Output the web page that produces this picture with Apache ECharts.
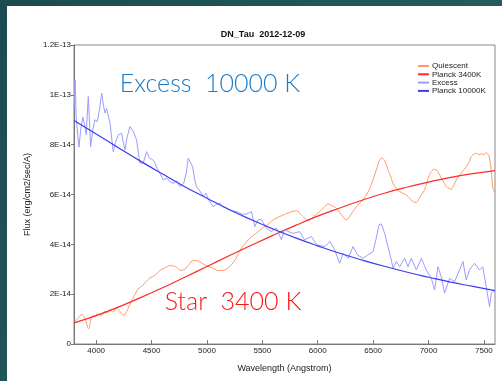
<!DOCTYPE html>
<html>
<head>
<meta charset="utf-8">
<script src="https://cdn.jsdelivr.net/npm/echarts@6/dist/echarts.min.js"></script>
<style>html,body{margin:0;padding:0;}#c{width:502px;height:381px;}</style>
</head>
<body>
<div id="c"></div>
<script>
// Values are in units of 1E-14 erg/cm2/sec/A
const quiescentWave = [3800,3820,3850,3870,3890,3910,3925,3935,3950,3970,3990,4010,4030,4050,4080,4100,4125,4150,4185,4215,4245,4275,4305,4335,4377,4420,4450,4485,4530,4575,4620,4665,4720,4760,4800,4840,4873,4910,4936,4990,5053,5100,5143,5190,5234,5270,5297,5340,5387,5447,5500,5550,5597,5650,5700,5760,5808,5860,5913,5960,6018,6060,6093,6130,6169,6210,6259,6300,6349,6400,6439,6470,6499,6530,6559,6583,6610,6634,6660,6679,6710,6739,6770,6800,6830,6860,6890,6910,6935,6960,6980,7000,7025,7055,7080,7100,7130,7160,7185,7206,7230,7251,7275,7296,7320,7341,7365,7386,7410,7431,7455,7476,7500,7521,7540,7551,7565,7581,7600];
const quiescentFlux = [0.85,0.96,1.1,1.2,1.1,0.9,0.65,0.62,0.95,1.15,1.1,1.22,1.18,1.15,1.32,1.25,1.38,1.28,1.45,1.3,1.15,1.3,1.6,1.85,2.2,2.35,2.5,2.65,2.75,2.95,3.05,3.15,3.1,2.95,3.0,3.2,3.35,3.35,3.3,3.15,3.05,2.95,2.95,3.05,3.25,3.5,3.75,4.0,4.25,4.45,4.65,4.8,4.98,5.1,5.2,5.3,5.35,5.15,4.95,5.1,5.31,5.5,5.62,5.55,5.45,5.2,4.98,5.2,5.51,5.75,5.98,6.25,6.59,7.0,7.39,7.46,7.3,6.99,6.7,6.45,6.25,6.12,6.05,5.98,5.85,5.71,5.68,5.8,5.98,6.15,6.39,6.7,6.92,7.01,6.95,6.79,6.55,6.32,6.25,6.21,6.4,6.59,6.75,6.86,7.0,7.12,7.3,7.52,7.62,7.66,7.6,7.63,7.6,7.68,7.6,7.46,7.0,6.25,6.05];

const excessWave = [3800,3810,3820,3835,3845,3860,3880,3895,3910,3929,3950,3970,3989,4010,4030,4050,4065,4080,4095,4109,4125,4154,4175,4199,4230,4245,4260,4280,4305,4335,4365,4380,4395,4425,4455,4480,4510,4530,4555,4575,4605,4640,4670,4695,4725,4755,4790,4815,4831,4850,4870,4890,4906,4935,4966,4990,5020,5056,5085,5116,5145,5177,5220,5267,5297,5327,5360,5402,5432,5460,5490,5537,5580,5627,5672,5700,5740,5777,5837,5880,5943,5990,6063,6110,6153,6198,6230,6274,6319,6360,6409,6450,6499,6525,6553,6574,6604,6630,6664,6680,6709,6740,6784,6815,6844,6890,6935,6980,7025,7055,7085,7115,7145,7190,7235,7280,7311,7340,7370,7415,7461,7490,7521,7551,7566,7597];
const excessFlux = [9.4,10.6,9.1,8.3,7.9,8.6,9.1,8.8,8.4,9.93,7.92,8.6,9.0,8.93,9.4,10.07,9.6,9.27,9.45,9.37,8.86,7.72,8.1,8.39,8.46,8.1,7.79,8.3,8.73,8.53,8.19,7.7,7.26,7.26,7.72,7.46,7.4,7.26,7.0,6.86,6.59,6.65,6.5,6.45,6.55,6.32,6.45,6.9,7.46,7.3,7.12,6.59,6.32,6.15,5.92,6.05,5.75,5.51,5.6,5.65,5.5,5.45,5.35,5.31,5.25,5.2,5.22,5.31,4.71,4.98,5.0,4.65,4.51,4.65,4.18,4.58,4.5,4.44,4.51,4.18,4.31,3.98,3.91,4.11,3.78,3.24,3.64,3.44,3.91,3.57,3.44,3.57,3.71,4.18,4.78,4.82,4.44,3.98,3.37,3.04,3.31,3.1,3.44,3.1,3.44,2.97,3.44,2.97,2.64,2.17,3.1,2.7,2.04,2.64,2.5,2.97,3.31,2.57,2.97,3.24,2.97,3.1,2.3,1.5,2.04,2.17];

const planckWave = [3800,4000,4200,4400,4600,4800,5000,5200,5400,5600,5800,6000,6200,6400,6600,6800,7000,7200,7400,7600];
const planck3400 = [0.85,1.14,1.48,1.86,2.26,2.68,3.11,3.54,3.96,4.37,4.76,5.13,5.46,5.77,6.05,6.29,6.50,6.69,6.84,6.96];
const planck10000 = [8.97,8.43,7.88,7.34,6.82,6.31,5.85,5.40,4.99,4.61,4.26,3.94,3.64,3.37,3.12,2.89,2.68,2.48,2.31,2.14];

const xTicks = [4000,4500,5000,5500,6000,6500,7000,7500];
const yTickLabels = ['0','2E-14','4E-14','6E-14','8E-14','1E-13','1.2E-13'];
const seriesNames = ['Quiescent','Planck 3400K','Excess','Planck 10000K'];

const zip = (a, b) => a.map((v, i) => [v, b[i]]);

const chart = echarts.init(document.getElementById('c'), null, {renderer: 'canvas'});
const lab = {fontFamily: 'Liberation Sans', fontSize: 8, color: '#222'};
chart.setOption({
  animation: false,
  backgroundColor: {type: 'linear', x: 0, y: 0, x2: 1, y2: 1, colorStops: [{offset: 0, color: '#1b4b51'}, {offset: 1, color: '#2a6464'}]},
  graphic: [
    {type: 'rect', z: -10, shape: {x: 7, y: 6, width: 495, height: 375}, style: {fill: '#ffffff'}},
    {type: 'text', z: 10, x: 210, y: 84, style: {text: 'Excess  10000 K', font: '300 25px Lato', fill: '#1b7bc6', align: 'center', verticalAlign: 'middle'}},
    {type: 'text', z: 10, x: 233, y: 302, style: {text: 'Star  3400 K', font: '300 25px Lato', fill: '#ff1414', align: 'center', verticalAlign: 'middle'}}
  ],
  title: {text: 'DN_Tau  2012-12-09', left: 258, top: 25, textAlign: 'center',
    textStyle: {fontFamily: 'Liberation Sans', fontSize: 9, fontWeight: 'bold', color: '#111'}},
  legend: {orient: 'vertical', left: 413, top: 57, itemWidth: 11, itemHeight: 2, itemGap: 0.3, icon: 'rect',
    data: seriesNames, textStyle: {fontFamily: 'Liberation Sans', fontSize: 8, lineHeight: 8, color: '#222', padding: [0,0,0,-2]}},
  grid: {left: 74, right: 7, top: 45, bottom: 37, show: true, borderColor: '#888', borderWidth: 1, backgroundColor: 'transparent'},
  xAxis: {type: 'value', min: 3800, max: 7600,
    name: 'Wavelength (Angstrom)', nameLocation: 'middle', nameGap: 20,
    nameTextStyle: {fontFamily: 'Liberation Sans', fontSize: 9, color: '#222'},
    axisLine: {lineStyle: {color: '#777'}},
    axisTick: {inside: true, length: 4, lineStyle: {color: '#777'}, customValues: xTicks},
    axisLabel: Object.assign({margin: 3, customValues: xTicks, formatter: v => String(v)}, lab),
    splitLine: {show: false}},
  yAxis: {type: 'value', min: 0, max: 12, interval: 2,
    name: 'Flux (erg/cm2/sec/A)', nameLocation: 'middle', nameGap: 42, nameRotate: 90,
    nameTextStyle: {fontFamily: 'Liberation Sans', fontSize: 9, color: '#222'},
    axisLine: {show: true, lineStyle: {color: '#777'}},
    axisTick: {show: true, length: 3, lineStyle: {color: '#777'}},
    axisLabel: Object.assign({margin: 3, formatter: v => yTickLabels[Math.round(v / 2)]}, lab),
    splitLine: {show: false}},
  series: [
    {name: seriesNames[0], type: 'line', data: zip(quiescentWave, quiescentFlux), showSymbol: false, smooth: 0.25,
      lineStyle: {color: '#ff9966', width: 1}, itemStyle: {color: '#ff9966'}},
    {name: seriesNames[1], type: 'line', data: zip(planckWave, planck3400), showSymbol: false, smooth: true,
      lineStyle: {color: '#ff2a2a', width: 1.2}, itemStyle: {color: '#ff2a2a'}},
    {name: seriesNames[2], type: 'line', data: zip(excessWave, excessFlux), showSymbol: false, smooth: false,
      lineStyle: {color: '#9c9cff', width: 1}, itemStyle: {color: '#9c9cff'}},
    {name: seriesNames[3], type: 'line', data: zip(planckWave, planck10000), showSymbol: false, smooth: true,
      lineStyle: {color: '#3c3cf0', width: 1.2}, itemStyle: {color: '#3c3cf0'}}
  ]
});
</script>
</body>
</html>
